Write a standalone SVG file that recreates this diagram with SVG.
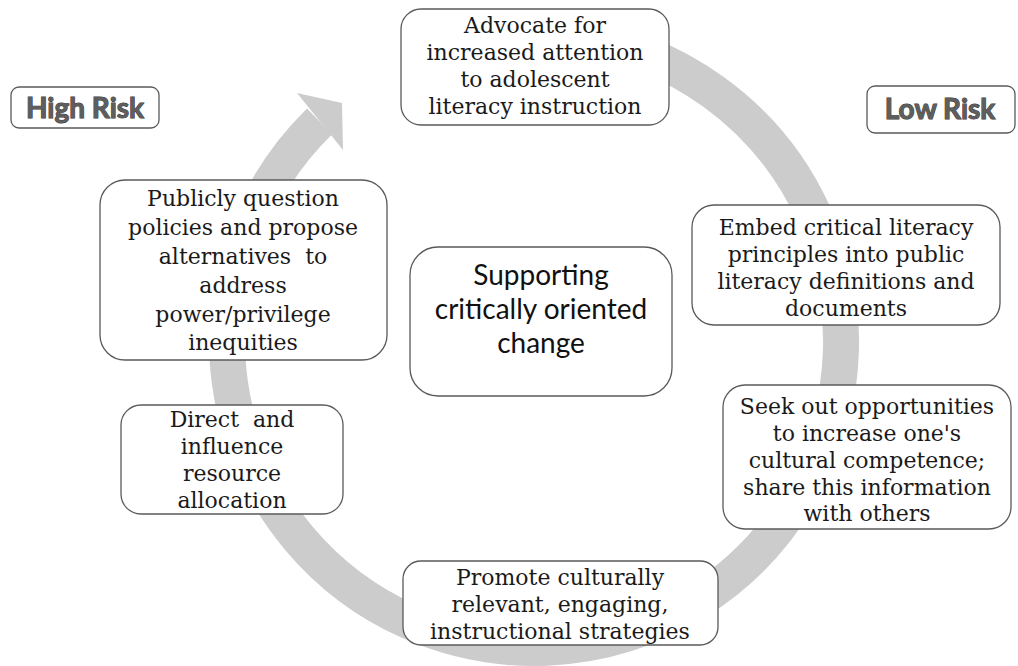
<svg xmlns="http://www.w3.org/2000/svg" width="1018" height="666" viewBox="0 0 1018 666">
  <style>
    .box { fill: #ffffff; stroke: #5a5a5a; stroke-width: 1.3; }
    .txt { font-family: "DejaVu Serif", "Liberation Serif", serif; font-size: 22px; fill: #1a1a1a; text-anchor: middle; white-space: pre; }
    .hub { font-family: Lato, "Open Sans", "Liberation Sans", sans-serif; font-size: 28px; fill: #111111; text-anchor: middle; }
    .risk { font-family: Lato, "Open Sans", "Liberation Sans", sans-serif; font-weight: bold; font-size: 28px; fill: #5e5e5e; stroke: #383838; stroke-width: 1; paint-order: stroke; text-anchor: middle; }
    .ring { fill: none; stroke: #cccccc; stroke-width: 36; }
  </style>

  <!-- circular flow arrow behind the steps -->
  <g id="connectors">
    <path class="ring" d="M 429 52.5 A 307 307 0 1 1 319.6 121.3"/>
    <polygon points="297,93 342,103 343,150" fill="#cccccc"/>
  </g>

  <g id="high-risk">
    <rect class="box" x="11" y="87" width="148" height="41" rx="8"/>
    <text class="risk" x="85" y="118">High Risk</text>
  </g>

  <g id="low-risk">
    <rect class="box" x="867" y="86" width="148" height="47" rx="8"/>
    <text class="risk" x="940" y="119">Low Risk</text>
  </g>

  <g id="advocate">
    <rect class="box" x="401" y="9" width="268" height="116" rx="20"/>
    <text class="txt" x="535" y="33">Advocate for</text>
    <text class="txt" x="535" y="60">increased attention</text>
    <text class="txt" x="535" y="87">to adolescent</text>
    <text class="txt" x="535" y="114">literacy instruction</text>
  </g>

  <g id="embed">
    <rect class="box" x="692" y="205" width="308" height="120" rx="22"/>
    <text class="txt" x="846" y="235">Embed critical literacy</text>
    <text class="txt" x="846" y="262">principles into public</text>
    <text class="txt" x="846" y="289">literacy definitions and</text>
    <text class="txt" x="846" y="316">documents</text>
  </g>

  <g id="seek">
    <rect class="box" x="723" y="385" width="288" height="144" rx="22"/>
    <text class="txt" x="867" y="414">Seek out opportunities</text>
    <text class="txt" x="867" y="441">to increase one's</text>
    <text class="txt" x="867" y="468">cultural competence;</text>
    <text class="txt" x="867" y="495">share this information</text>
    <text class="txt" x="867" y="521">with others</text>
  </g>

  <g id="promote">
    <rect class="box" x="403" y="561" width="315" height="84" rx="18"/>
    <text class="txt" x="560" y="585">Promote culturally</text>
    <text class="txt" x="560" y="612">relevant, engaging,</text>
    <text class="txt" x="560" y="639">instructional strategies</text>
  </g>

  <g id="direct">
    <rect class="box" x="121" y="405" width="222" height="109" rx="20"/>
    <text class="txt" x="232" y="427">Direct  and</text>
    <text class="txt" x="232" y="454">influence</text>
    <text class="txt" x="232" y="481">resource</text>
    <text class="txt" x="232" y="508">allocation</text>
  </g>

  <g id="publicly">
    <rect class="box" x="100" y="180" width="287" height="180" rx="25"/>
    <text class="txt" x="243" y="206">Publicly question</text>
    <text class="txt" x="243" y="235">policies and propose</text>
    <text class="txt" x="243" y="264">alternatives  to</text>
    <text class="txt" x="243" y="293">address</text>
    <text class="txt" x="243" y="322">power/privilege</text>
    <text class="txt" x="243" y="350">inequities</text>
  </g>

  <g id="hub">
    <rect class="box" x="410" y="247" width="262" height="149" rx="28"/>
    <text class="hub" x="541" y="285">Supporting</text>
    <text class="hub" x="541" y="319">critically oriented</text>
    <text class="hub" x="541" y="353">change</text>
  </g>
</svg>
